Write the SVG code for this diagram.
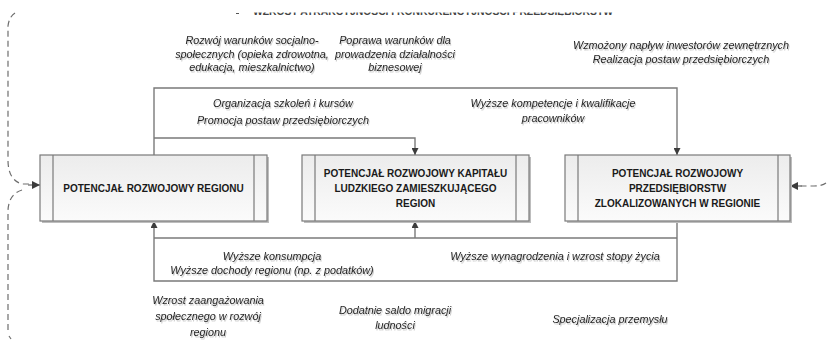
<svg xmlns="http://www.w3.org/2000/svg" width="827" height="348" viewBox="0 0 827 348">
  <style>
    .lbl { font-family: "Liberation Sans", Arial, sans-serif; font-size: 10.8px; font-style: italic; fill: #262626; text-anchor: middle; }
    .box-text { font-family: "Liberation Sans", Arial, sans-serif; font-size: 10px; font-weight: bold; fill: #1a1a1a; text-anchor: middle; }
    .title { font-family: "Liberation Sans", Arial, sans-serif; font-size: 10px; font-weight: bold; fill: #444; }
    .box { fill: url(#boxFill); stroke: #7a7a7a; stroke-width: 1.2; }
    .box-shadow { fill: #bdbdbd; }
    .bar { stroke: #7a7a7a; stroke-width: 1.2; }
    .conn { fill: none; stroke: #7a7a7a; stroke-width: 1.4; }
    .dash { fill: none; stroke: #6e6e6e; stroke-width: 1.2; stroke-dasharray: 6 4; }
  </style>
  <defs>
    <linearGradient id="boxFill" x1="0" y1="0" x2="0" y2="1">
      <stop offset="0" stop-color="#ececec"/>
      <stop offset="1" stop-color="#fbfbfb"/>
    </linearGradient>
    <filter id="textShadow" x="-10%" y="-30%" width="120%" height="160%">
      <feDropShadow dx="1" dy="1.5" stdDeviation="0.6" flood-color="#000" flood-opacity="0.22"/>
    </filter>
    <marker id="arrow" viewBox="0 0 10 10" refX="10" refY="5" markerWidth="7" markerHeight="7" markerUnits="userSpaceOnUse" orient="auto">
      <path d="M0,0 L10,5 L0,10 z" fill="#3c3c3c"/>
    </marker>
    <marker id="arrowBig" viewBox="0 0 10 10" refX="10" refY="5" markerWidth="9" markerHeight="8" markerUnits="userSpaceOnUse" orient="auto">
      <path d="M0,0 L10,5 L0,10 z" fill="#3c3c3c"/>
    </marker>
    <clipPath id="titleClip">
      <rect x="200" y="12.5" width="450" height="3"/>
    </clipPath>
  </defs>

  <!-- heading line, cut by the page edge -->
  <g id="heading" clip-path="url(#titleClip)">
    <text class="title" x="253" y="15" textLength="360" lengthAdjust="spacingAndGlyphs">WZROST ATRAKCYJNOŚCI I KONKURENCYJNOŚCI PRZEDSIĘBIORSTW</text>
  </g>
  <line x1="236" y1="13.5" x2="239" y2="13.5" stroke="#555" stroke-width="1"/>

  <!-- connectors -->
  <g id="connectors">
    <!-- upper loop: region -> enterprises, branch -> human capital -->
    <path class="conn" d="M154,155 V88 H677 V155" marker-end="url(#arrow)"/>
    <path class="conn" d="M154,138 H415 V155" marker-end="url(#arrow)"/>
    <!-- lower loop: enterprises -> region, branch -> human capital -->
    <path class="conn" d="M677,221 V281 H154 V221" marker-end="url(#arrow)"/>
    <path class="conn" d="M677,238 H154"/>
    <path class="conn" d="M415,238 V221" marker-end="url(#arrow)"/>
    <!-- external feedback on the left -->
    <path class="dash" d="M15,13 Q9,17 8,26 V160 Q8,180 22,184 H30"/>
    <path class="conn" d="M28,185 H40" marker-end="url(#arrowBig)"/>
    <path class="dash" d="M22,190 Q9,194 8,210 V330"/>
    <path class="dash" d="M9,336 L11,339" stroke-dasharray="none"/>
    <!-- external input on the right -->
    <path class="dash" d="M826,183 Q822,186 814,186 H800" stroke-dasharray="5 3"/>
    <path class="conn" d="M802,186 H790" marker-end="url(#arrowBig)"/>
  </g>

  <!-- node: regional potential -->
  <g id="node-region">
    <rect class="box-shadow" x="42" y="157" width="227" height="66"/>
    <rect class="box" x="40" y="155" width="227" height="66"/>
    <line class="bar" x1="53" y1="155" x2="53" y2="221"/>
    <line class="bar" x1="254" y1="155" x2="254" y2="221"/>
    <text class="box-text" x="153.5" y="191.5">POTENCJAŁ ROZWOJOWY REGIONU</text>
  </g>

  <!-- node: human capital potential -->
  <g id="node-human-capital">
    <rect class="box-shadow" x="304" y="157" width="227" height="66"/>
    <rect class="box" x="302" y="155" width="227" height="66"/>
    <line class="bar" x1="315" y1="155" x2="315" y2="221"/>
    <line class="bar" x1="516" y1="155" x2="516" y2="221"/>
    <text class="box-text" x="415.5" y="176.5">POTENCJAŁ ROZWOJOWY KAPITAŁU</text>
    <text class="box-text" x="415.5" y="191.5">LUDZKIEGO ZAMIESZKUJĄCEGO</text>
    <text class="box-text" x="415.5" y="206.5">REGION</text>
  </g>

  <!-- node: enterprises potential -->
  <g id="node-enterprises">
    <rect class="box-shadow" x="567" y="157" width="225" height="66"/>
    <rect class="box" x="565" y="155" width="225" height="66"/>
    <line class="bar" x1="578" y1="155" x2="578" y2="221"/>
    <line class="bar" x1="778" y1="155" x2="778" y2="221"/>
    <text class="box-text" x="677.5" y="176.5">POTENCJAŁ ROZWOJOWY</text>
    <text class="box-text" x="677.5" y="191.5">PRZEDSIĘBIORSTW</text>
    <text class="box-text" x="677.5" y="206.5">ZLOKALIZOWANYCH W REGIONIE</text>
  </g>

  <!-- effect labels -->
  <g id="labels" filter="url(#textShadow)">
    <text class="lbl" x="252" y="44">Rozwój warunków socjalno-</text>
    <text class="lbl" x="252" y="57.5">społecznych (opieka zdrowotna,</text>
    <text class="lbl" x="252" y="71">edukacja, mieszkalnictwo)</text>

    <text class="lbl" x="395" y="44">Poprawa warunków dla</text>
    <text class="lbl" x="395" y="57.5">prowadzenia działalności</text>
    <text class="lbl" x="395" y="71">biznesowej</text>

    <text class="lbl" x="681" y="49">Wzmożony napływ inwestorów zewnętrznych</text>
    <text class="lbl" x="681" y="63">Realizacja postaw przedsiębiorczych</text>

    <text class="lbl" x="283" y="107">Organizacja szkoleń i kursów</text>
    <text class="lbl" x="283" y="123.5">Promocja postaw przedsiębiorczych</text>

    <text class="lbl" x="553" y="107">Wyższe kompetencje i kwalifikacje</text>
    <text class="lbl" x="553" y="122">pracowników</text>

    <text class="lbl" x="272" y="260">Wyższe konsumpcja</text>
    <text class="lbl" x="272" y="274">Wyższe dochody regionu (np. z podatków)</text>

    <text class="lbl" x="555" y="260">Wyższe wynagrodzenia i wzrost stopy życia</text>

    <text class="lbl" x="208" y="304">Wzrost zaangażowania</text>
    <text class="lbl" x="208" y="320">społecznego w rozwój</text>
    <text class="lbl" x="208" y="336">regionu</text>

    <text class="lbl" x="395" y="314">Dodatnie saldo migracji</text>
    <text class="lbl" x="395" y="329">ludności</text>

    <text class="lbl" x="610" y="323">Specjalizacja przemysłu</text>
  </g>
</svg>
